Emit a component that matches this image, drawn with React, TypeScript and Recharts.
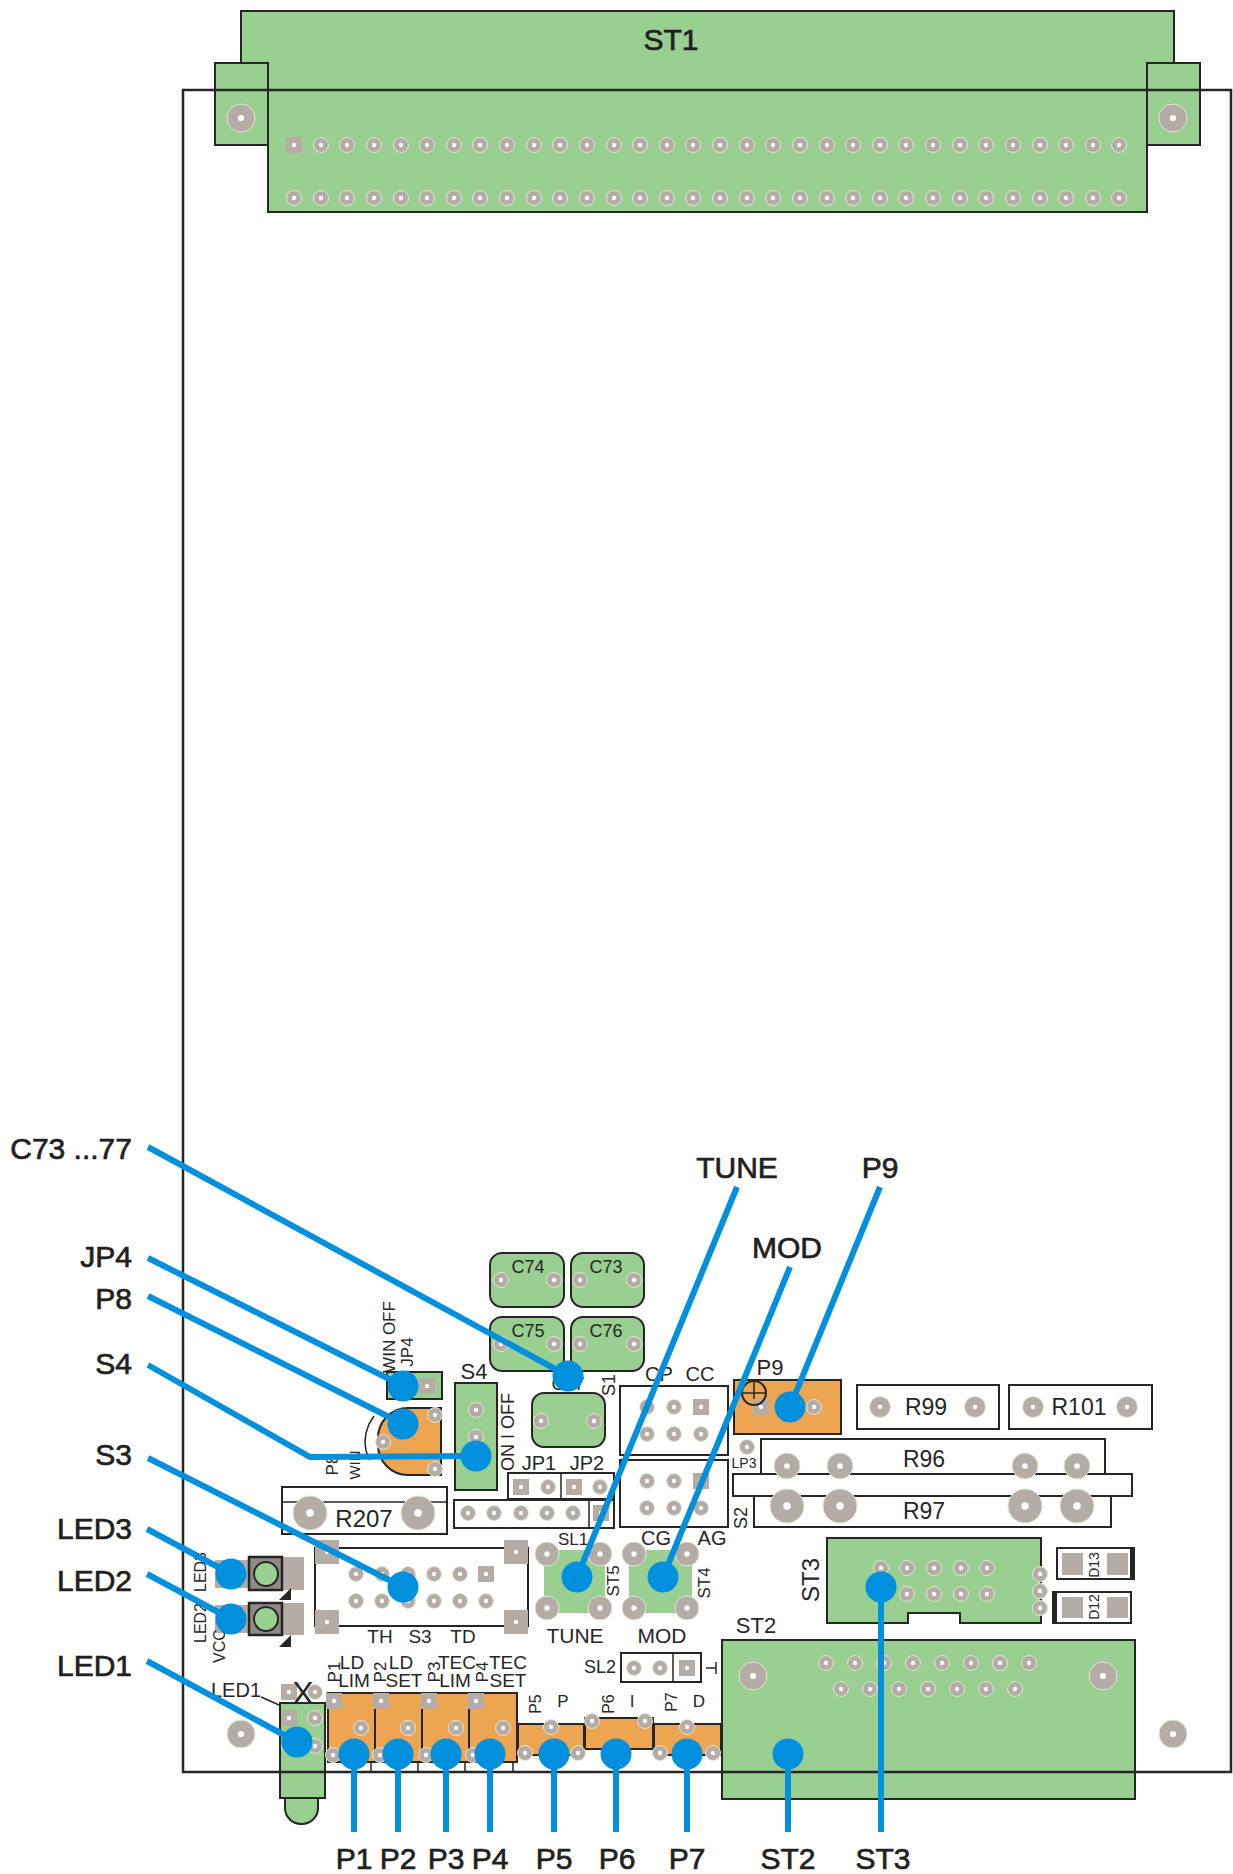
import { ScatterChart, Scatter, XAxis, YAxis, ReferenceArea, ReferenceLine, Rectangle } from 'recharts';

const W = 1233;
const H = 1874;
const GREEN = '#99cf90';
const ORANGE = '#eda551';
const PAD = '#b5ada5';
const INK = '#262626';
const BLUE = '#0090de';
const FONT = '"Liberation Sans", Arial, sans-serif';

// board parts as [x1, x2, y1, y2] in picture units
const greenParts = [
    [241, 1174, 11, 90], [215, 268, 63, 145], [1147, 1200, 63, 145], [268, 1147, 90, 212],
    [387, 442, 1372, 1399], [455, 497, 1383, 1490], [827, 1041, 1538, 1623], [722, 1135, 1640, 1799],
    [280, 325, 1703, 1798],
];
const orangeParts = [
    [328, 375, 1693, 1762], [375, 422, 1693, 1762], [422, 469, 1693, 1762], [469, 517, 1693, 1762],
    [518, 584, 1724, 1755], [585, 653, 1718, 1749], [654, 721, 1724, 1755], [734, 841, 1380, 1434],
];
const whiteParts = [
    [282, 447, 1487, 1534], [454, 614, 1500, 1528], [508, 614, 1473, 1499], [620, 728, 1386, 1455],
    [620, 728, 1460, 1527], [857, 999, 1385, 1429], [1009, 1152, 1385, 1429], [761, 1105, 1439, 1479],
    [754, 1111, 1496, 1527], [733, 1132, 1474, 1496], [315, 528, 1548, 1626], [621, 701, 1653, 1682],
    [1057, 1134, 1548, 1579], [1053, 1131, 1592, 1623], [908, 960, 1613, 1623],
];
const capacitors = [
    [490, 564, 1253, 1307], [571, 644, 1253, 1307], [490, 564, 1317, 1371], [571, 644, 1317, 1371], [532, 605, 1393, 1447],
];
const softGreen = [[544, 605, 1550, 1613], [629, 692, 1550, 1613]];
const grayBlocks = [
    [215, 249, 1560, 1588], [282, 304, 1557, 1590], [215, 249, 1605, 1633], [282, 304, 1603, 1635],
    [1062, 1083, 1553, 1575], [1107, 1128, 1553, 1575], [1062, 1083, 1597, 1618], [1107, 1128, 1597, 1618],
];
const ledBodies = [[249, 282, 1557, 1590], [249, 282, 1603, 1635]];
const darkEdges = [[1130, 1134, 1548, 1579], [1053, 1057, 1592, 1623]];

// thin silk screen strokes
const silkLines = [
    [282, 1502, 447, 1502], [589, 1500, 589, 1528], [561, 1473, 561, 1499], [673, 1653, 673, 1682],
    [261, 1697, 279, 1705], [371, 1762, 371, 1772], [418, 1762, 418, 1772], [465, 1762, 465, 1772],
    [513, 1762, 513, 1772], [742, 1393, 766, 1393], [754, 1381, 754, 1405], [706, 1668, 716, 1668],
    [716, 1662, 716, 1674],
];
const p8Arc = [
    { x: 374, y: 1416 }, { x: 369, y: 1424 }, { x: 366, y: 1433 }, { x: 365, y: 1442 }, { x: 366, y: 1451 }, { x: 370, y: 1460 },
];

const st1PinX = [294, 321, 347, 374, 401, 427, 454, 480, 507, 534, 560, 587, 614, 640, 667, 693, 720, 747, 773, 800, 827, 853, 880, 906, 933, 960, 986, 1013, 1040, 1066, 1093, 1119];
const st3PinX = [881, 907, 934, 961, 987];
const st2PinTopX = [826, 855, 884, 913, 942, 971, 1000, 1029];
const st2PinLowX = [841, 870, 899, 928, 957, 986, 1015];
const s3PinX = [356, 382, 408, 434, 460, 486];

const smallPads = [
    ...st1PinX.slice(1).map((x) => ({ x, y: 145 })),
    ...st1PinX.map((x) => ({ x, y: 198 })),
    ...st3PinX.map((x) => ({ x, y: 1568 })),
    ...st3PinX.map((x) => ({ x, y: 1594 })),
    ...st2PinTopX.map((x) => ({ x, y: 1663 })),
    ...st2PinLowX.map((x) => ({ x, y: 1689 })),
    ...s3PinX.slice(0, 5).map((x) => ({ x, y: 1574 })),
    ...s3PinX.map((x) => ({ x, y: 1601 })),
    { x: 501, y: 1280 }, { x: 554, y: 1280 }, { x: 580, y: 1280 }, { x: 634, y: 1280 },
    { x: 501, y: 1344 }, { x: 554, y: 1344 }, { x: 580, y: 1344 }, { x: 634, y: 1344 },
    { x: 541, y: 1421 }, { x: 594, y: 1421 }, { x: 476, y: 1410 }, { x: 476, y: 1437 }, { x: 476, y: 1463 },
    { x: 435, y: 1415 }, { x: 383, y: 1442 }, { x: 435, y: 1469 },
    { x: 468, y: 1513 }, { x: 494, y: 1513 }, { x: 521, y: 1513 }, { x: 547, y: 1513 }, { x: 573, y: 1513 },
    { x: 548, y: 1487 }, { x: 600, y: 1487 },
    { x: 647, y: 1407 }, { x: 674, y: 1407 }, { x: 647, y: 1434 }, { x: 674, y: 1434 }, { x: 701, y: 1434 },
    { x: 647, y: 1481 }, { x: 674, y: 1481 }, { x: 647, y: 1508 }, { x: 674, y: 1508 }, { x: 701, y: 1508 },
    { x: 789, y: 1407 }, { x: 814, y: 1407 }, { x: 747, y: 1447 },
    { x: 1040, y: 1574 }, { x: 1040, y: 1591 }, { x: 1040, y: 1608 },
    { x: 634, y: 1668 }, { x: 660, y: 1668 },
    { x: 315, y: 1692 }, { x: 315, y: 1718 }, { x: 315, y: 1746 }, { x: 289, y: 1746 },
    { x: 361, y: 1728 }, { x: 408, y: 1728 }, { x: 456, y: 1728 }, { x: 503, y: 1728 },
    { x: 333, y: 1755 }, { x: 380, y: 1755 }, { x: 426, y: 1755 }, { x: 473, y: 1755 },
    { x: 551, y: 1727 }, { x: 525, y: 1753 }, { x: 578, y: 1753 },
    { x: 592, y: 1721 }, { x: 645, y: 1721 }, { x: 687, y: 1727 }, { x: 660, y: 1753 }, { x: 713, y: 1753 },
];
const squarePads = [
    { x: 294, y: 145 }, { x: 427, y: 1386 }, { x: 521, y: 1487 }, { x: 574, y: 1487 }, { x: 601, y: 1513 },
    { x: 701, y: 1407 }, { x: 701, y: 1481 }, { x: 761, y: 1407 }, { x: 486, y: 1574 }, { x: 687, y: 1668 },
    { x: 289, y: 1692 }, { x: 289, y: 1718 }, { x: 334, y: 1701 }, { x: 381, y: 1701 }, { x: 429, y: 1701 }, { x: 476, y: 1701 },
];
const cornerSquares = [{ x: 327, y: 1552 }, { x: 516, y: 1552 }, { x: 327, y: 1622 }, { x: 516, y: 1622 }];
const mediumPads = [{ x: 880, y: 1407 }, { x: 975, y: 1407 }, { x: 1033, y: 1407 }, { x: 1127, y: 1407 }];
const cornerPads = [
    { x: 547, y: 1554 }, { x: 600, y: 1554 }, { x: 547, y: 1608 }, { x: 600, y: 1608 },
    { x: 634, y: 1554 }, { x: 687, y: 1554 }, { x: 634, y: 1608 }, { x: 687, y: 1608 },
];
const mountHoles = [{ x: 241, y: 118 }, { x: 1173, y: 118 }, { x: 241, y: 1734 }, { x: 1173, y: 1734 }, { x: 753, y: 1676 }, { x: 1103, y: 1676 }];
const r96Pads = [{ x: 787, y: 1466 }, { x: 840, y: 1466 }, { x: 1025, y: 1466 }, { x: 1077, y: 1466 }];
const r97Pads = [{ x: 787, y: 1506 }, { x: 840, y: 1506 }, { x: 1025, y: 1506 }, { x: 1077, y: 1506 }, { x: 310, y: 1513 }, { x: 418, y: 1513 }];
const ledLenses = [{ x: 266, y: 1574 }, { x: 266, y: 1619 }];
const ledMarks = [{ x: 285, y: 1594 }, { x: 285, y: 1641 }];
const trimmerCircle = [{ x: 754, y: 1393 }];

// horizontal silk text: baseline anchored, centred on x
const silkText = [
    { t: 'C74', x: 528, y: 1273, s: 18 }, { t: 'C73', x: 606, y: 1273, s: 18 }, { t: 'C75', x: 528, y: 1337, s: 18 }, { t: 'C76', x: 606, y: 1337, s: 18 },
    { t: 'C77', x: 568, y: 1390, s: 18 }, { t: 'S4', x: 474, y: 1379, s: 22 }, { t: 'JP1', x: 539, y: 1470, s: 20 }, { t: 'JP2', x: 587, y: 1470, s: 20 },
    { t: 'R207', x: 364, y: 1527, s: 24 }, { t: 'CP', x: 659, y: 1381, s: 20 }, { t: 'CC', x: 700, y: 1381, s: 20 }, { t: 'P9', x: 770, y: 1375, s: 22 },
    { t: 'R99', x: 926, y: 1415, s: 23 }, { t: 'R101', x: 1079, y: 1415, s: 23 }, { t: 'R96', x: 924, y: 1467, s: 23 }, { t: 'R97', x: 924, y: 1519, s: 23 },
    { t: 'LP3', x: 744, y: 1468, s: 14 }, { t: 'ST2', x: 756, y: 1633, s: 22 }, { t: 'SL1', x: 573, y: 1545, s: 17 }, { t: 'TUNE', x: 575, y: 1643, s: 21 },
    { t: 'MOD', x: 662, y: 1643, s: 21 }, { t: 'CG', x: 656, y: 1545, s: 20 }, { t: 'AG', x: 712, y: 1545, s: 20 }, { t: 'SL2', x: 600, y: 1673, s: 18 },
    { t: 'TH', x: 380, y: 1643, s: 19 }, { t: 'S3', x: 420, y: 1643, s: 19 }, { t: 'TD', x: 463, y: 1643, s: 19 }, { t: 'LED1', x: 236, y: 1697, s: 20 },
    { t: 'X', x: 303, y: 1704, s: 32 }, { t: 'LD', x: 352, y: 1669, s: 19 }, { t: 'LIM', x: 354, y: 1687, s: 19 }, { t: 'LD', x: 401, y: 1669, s: 19 },
    { t: 'SET', x: 404, y: 1687, s: 19 }, { t: 'TEC', x: 457, y: 1669, s: 19 }, { t: 'LIM', x: 455, y: 1687, s: 19 }, { t: 'TEC', x: 508, y: 1669, s: 19 },
    { t: 'SET', x: 508, y: 1687, s: 19 }, { t: 'P', x: 563, y: 1707, s: 17 }, { t: 'I', x: 632, y: 1707, s: 17 }, { t: 'D', x: 699, y: 1707, s: 17 },
];
// silk text turned to read bottom to top, centred on its point
const silkTextUp = [
    { t: 'S1', x: 609, y: 1385, s: 18 }, { t: 'WIN OFF', x: 389, y: 1337, s: 17 }, { t: 'JP4', x: 407, y: 1352, s: 17 }, { t: 'ON I OFF', x: 508, y: 1432, s: 18 },
    { t: 'P8', x: 332, y: 1465, s: 17 }, { t: 'WIN', x: 354, y: 1465, s: 15 }, { t: 'S2', x: 741, y: 1518, s: 18 }, { t: 'ST3', x: 810, y: 1580, s: 24 },
    { t: 'ST5', x: 613, y: 1581, s: 17 }, { t: 'ST4', x: 704, y: 1583, s: 17 }, { t: 'D13', x: 1094, y: 1565, s: 14 }, { t: 'D12', x: 1094, y: 1607, s: 14 },
    { t: 'LED3', x: 200, y: 1572, s: 16 }, { t: 'LED2', x: 200, y: 1623, s: 16 }, { t: 'VCC', x: 219, y: 1646, s: 16 }, { t: 'P1', x: 334, y: 1672, s: 17 },
    { t: 'P2', x: 380, y: 1672, s: 17 }, { t: 'P3', x: 434, y: 1672, s: 17 }, { t: 'P4', x: 482, y: 1672, s: 17 }, { t: 'P5', x: 535, y: 1704, s: 16 },
    { t: 'P6', x: 608, y: 1704, s: 16 }, { t: 'P7', x: 671, y: 1702, s: 16 },
];

const leftLabels = [
    { t: 'C73 ...77', x: 132, y: 1159 }, { t: 'JP4', x: 132, y: 1267 }, { t: 'P8', x: 132, y: 1309 }, { t: 'S4', x: 132, y: 1374 },
    { t: 'S3', x: 132, y: 1465 }, { t: 'LED3', x: 132, y: 1539 }, { t: 'LED2', x: 132, y: 1591 }, { t: 'LED1', x: 132, y: 1676 },
];
const centerLabels = [
    { t: 'ST1', x: 671, y: 50 }, { t: 'TUNE', x: 737, y: 1178 }, { t: 'P9', x: 880, y: 1178 }, { t: 'MOD', x: 787, y: 1258 },
    { t: 'P1', x: 354, y: 1869 }, { t: 'P2', x: 398, y: 1869 }, { t: 'P3', x: 446, y: 1869 }, { t: 'P4', x: 490, y: 1869 },
    { t: 'P5', x: 554, y: 1869 }, { t: 'P6', x: 617, y: 1869 }, { t: 'P7', x: 687, y: 1869 }, { t: 'ST2', x: 788, y: 1869 }, { t: 'ST3', x: 883, y: 1869 },
];

// callout leaders, the last point of each carries the blue dot
const leaders = [
    [{ x: 148, y: 1147 }, { x: 568, y: 1376 }],
    [{ x: 148, y: 1258 }, { x: 403, y: 1386 }],
    [{ x: 148, y: 1296 }, { x: 403, y: 1424 }],
    [{ x: 148, y: 1365 }, { x: 310, y: 1457 }, { x: 476, y: 1456 }],
    [{ x: 148, y: 1458 }, { x: 403, y: 1587 }],
    [{ x: 147, y: 1529 }, { x: 231, y: 1574 }],
    [{ x: 147, y: 1574 }, { x: 231, y: 1619 }],
    [{ x: 147, y: 1661 }, { x: 297, y: 1742 }],
    [{ x: 354, y: 1832 }, { x: 354, y: 1754 }],
    [{ x: 398, y: 1832 }, { x: 398, y: 1754 }],
    [{ x: 446, y: 1832 }, { x: 446, y: 1754 }],
    [{ x: 490, y: 1832 }, { x: 490, y: 1754 }],
    [{ x: 554, y: 1832 }, { x: 554, y: 1754 }],
    [{ x: 616, y: 1832 }, { x: 616, y: 1754 }],
    [{ x: 687, y: 1832 }, { x: 687, y: 1754 }],
    [{ x: 788, y: 1832 }, { x: 788, y: 1754 }],
    [{ x: 881, y: 1832 }, { x: 881, y: 1587 }],
    [{ x: 737, y: 1187 }, { x: 577, y: 1577 }],
    [{ x: 790, y: 1267 }, { x: 663, y: 1577 }],
    [{ x: 880, y: 1187 }, { x: 790, y: 1407 }],
];
const leaderDots = leaders.map((l) => l[l.length - 1]);

const pad = (r: number, fill = PAD) => (p: any) => (
    <g>
        <circle cx={p.cx} cy={p.cy} r={r} fill={fill} stroke="#dfe8d8" strokeWidth={1} />
        <circle cx={p.cx} cy={p.cy} r={Math.max(2.2, r * 0.22)} fill="#fff" />
    </g>
);
const square = (h: number) => (p: any) => (
    <g>
        <rect x={p.cx - h} y={p.cy - h} width={h * 2} height={h * 2} fill={PAD} />
        <circle cx={p.cx} cy={p.cy} r={2.2} fill="#fff" />
    </g>
);
const dataOf = (p: any) => p.payload ?? p;

const textShape = (p: any) => {
    const d = dataOf(p);
    return <text x={p.cx} y={p.cy} fontSize={d.s} fontFamily={FONT} fill={INK} textAnchor="middle">{d.t}</text>;
};
const textUpShape = (p: any) => {
    const d = dataOf(p);
    return (
        <text x={p.cx} y={p.cy} fontSize={d.s} fontFamily={FONT} fill={INK} textAnchor="middle" dominantBaseline="central"
            transform={`rotate(-90 ${p.cx} ${p.cy})`}>{d.t}</text>
    );
};
const calloutShape = (anchor: string) => (p: any) => (
    <text x={p.cx} y={p.cy} fontSize={30} fontFamily={FONT} fill="#231f20" stroke="#231f20" strokeWidth={0.7} textAnchor={anchor}>{dataOf(p).t}</text>
);
const lens = (p: any) => <circle cx={p.cx} cy={p.cy} r={12} fill={GREEN} stroke={INK} strokeWidth={2} />;
const mark = (p: any) => <path d={`M${p.cx - 6} ${p.cy + 6}L${p.cx + 6} ${p.cy + 6}L${p.cx + 6} ${p.cy - 6}Z`} fill={INK} />;
const ring = (p: any) => <circle cx={p.cx} cy={p.cy} r={12} fill="none" stroke={INK} strokeWidth={2} />;
const nothing = () => <g />;

const box = (r: any, fill: string, stroke: string, width: number, radius: any, key: string) => (
    <ReferenceArea key={key} x1={r[0]} x2={r[1]} y1={r[2]} y2={r[3]} ifOverflow="visible"
        shape={(p: any) => <Rectangle x={p.x} y={p.y} width={p.width} height={p.height} radius={radius} fill={fill} stroke={stroke} strokeWidth={width} />}
    />
);

export default function App() {
    return (
        <div style={{ position: 'absolute', left: 0, top: 0, width: W, height: H, background: '#fff', overflow: 'hidden' }}>
            <ScatterChart width={W} height={H} margin={{ top: 0, right: 0, bottom: 0, left: 0 }}>
                <XAxis type="number" dataKey="x" domain={[0, W]} hide allowDataOverflow />
                <YAxis type="number" dataKey="y" domain={[0, H]} reversed hide allowDataOverflow />

                {/* Parts */}
                {box([285, 318, 1790, 1824], GREEN, INK, 2, [0, 0, 16, 16], 'tip')}
                {greenParts.map((r, i) => box(r, GREEN, INK, 2, 0, `g${i}`))}
                {softGreen.map((r, i) => box(r, GREEN, 'none', 0, 0, `sg${i}`))}
                {orangeParts.map((r, i) => box(r, ORANGE, INK, 2, 0, `o${i}`))}
                {box([378, 441, 1408, 1475], ORANGE, INK, 2, [30, 0, 0, 30], 'p8')}
                {whiteParts.map((r, i) => box(r, '#fff', INK, 2, 0, `w${i}`))}
                {box([909, 959, 1618, 1626], '#fff', 'none', 0, 0, 'notch')}
                {capacitors.map((r, i) => box(r, GREEN, INK, 2, 12, `c${i}`))}
                {grayBlocks.map((r, i) => box(r, PAD, 'none', 0, 0, `b${i}`))}
                {ledBodies.map((r, i) => box(r, '#8f8a85', INK, 2.5, 0, `l${i}`))}
                {darkEdges.map((r, i) => box(r, INK, 'none', 0, 0, `d${i}`))}
                {box([183, 1231, 90, 1772], 'none', INK, 2.5, 0, 'board')}

                {silkLines.map((s, i) => (
                    <ReferenceLine key={`s${i}`} ifOverflow="visible" stroke={INK} strokeWidth={1.5}
                        segment={[{ x: s[0], y: s[1] }, { x: s[2], y: s[3] }]} />
                ))}
                <Scatter data={p8Arc} line={{ stroke: INK, strokeWidth: 1.5 }} lineType="joint" shape={nothing} isAnimationActive={false} />

                {/* Pads */}
                <Scatter data={smallPads} shape={pad(7.5)} isAnimationActive={false} />
                <Scatter data={squarePads} shape={square(8)} isAnimationActive={false} />
                <Scatter data={cornerSquares} shape={square(12)} isAnimationActive={false} />
                <Scatter data={mediumPads} shape={pad(10.5)} isAnimationActive={false} />
                <Scatter data={cornerPads} shape={pad(12)} isAnimationActive={false} />
                <Scatter data={r96Pads} shape={pad(13)} isAnimationActive={false} />
                <Scatter data={mountHoles} shape={pad(14)} isAnimationActive={false} />
                <Scatter data={r97Pads} shape={pad(17)} isAnimationActive={false} />
                <Scatter data={ledLenses} shape={lens} isAnimationActive={false} />
                <Scatter data={ledMarks} shape={mark} isAnimationActive={false} />
                <Scatter data={trimmerCircle} shape={ring} isAnimationActive={false} />

                {/* Silk text */}
                <Scatter data={silkText} shape={textShape} isAnimationActive={false} />
                <Scatter data={silkTextUp} shape={textUpShape} isAnimationActive={false} />

                {/* Callouts */}
                {leaders.map((l, i) => (
                    <Scatter key={`lead${i}`} data={l} line={{ stroke: BLUE, strokeWidth: 6 }} lineType="joint" shape={nothing} isAnimationActive={false} />
                ))}
                <Scatter data={leaderDots} shape={(p: any) => <circle cx={p.cx} cy={p.cy} r={15.5} fill={BLUE} />} isAnimationActive={false} />
                <Scatter data={leftLabels} shape={calloutShape('end')} isAnimationActive={false} />
                <Scatter data={centerLabels} shape={calloutShape('middle')} isAnimationActive={false} />
            </ScatterChart>
        </div>
    );
}
